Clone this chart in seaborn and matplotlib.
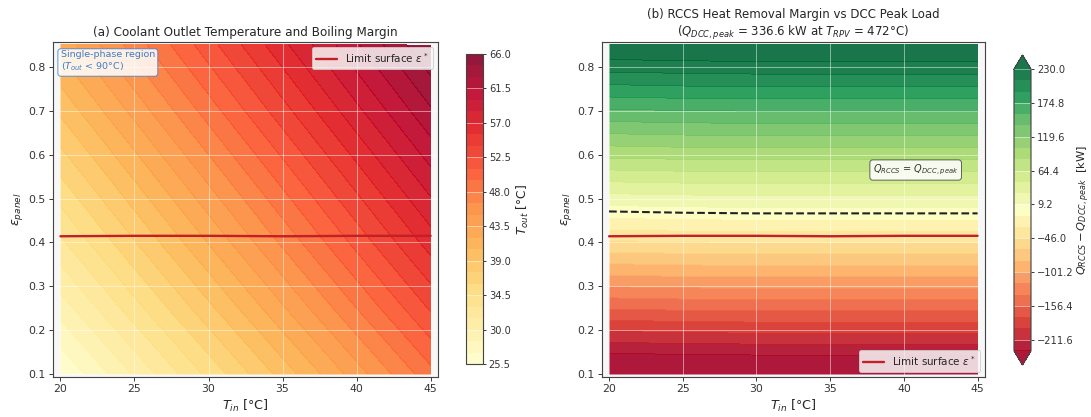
import numpy as np
import matplotlib
matplotlib.use("Agg")
import matplotlib.pyplot as plt
import seaborn as sns

# inlet temperature grid [°C]
t_in = [20, 25, 30, 35, 40, 45]

# panel (a): outlet temperature, rows = emissivity, cols = inlet temperature
eps_a = [0.10, 0.25, 0.40, 0.55, 0.70, 0.85]
t_out = [
    [25.5, 30.2, 34.9, 39.6, 44.3, 49.0],
    [29.2, 33.9, 38.6, 43.3, 48.0, 52.7],
    [32.7, 37.4, 42.1, 46.8, 51.5, 56.2],
    [36.0, 40.7, 45.4, 50.1, 54.8, 59.5],
    [39.3, 44.0, 48.7, 53.4, 58.1, 62.8],
    [42.5, 47.2, 51.9, 56.6, 61.3, 66.0],
]

# panel (b): heat removal margin vs emissivity [kW], small shift along T_in
eps_b = [0.10, 0.15, 0.20, 0.25, 0.30, 0.35, 0.40, 0.45,
         0.50, 0.55, 0.60, 0.65, 0.70, 0.75, 0.80, 0.85]
q_margin = [-262, -225, -188, -152, -116, -81, -46, -11,
            23, 57, 91, 124, 157, 190, 222, 254]
q_shift = [-3, -1, 0, 0, 0, 0]

# limit surface epsilon* along T_in
eps_star = [0.414, 0.415, 0.415, 0.414, 0.415, 0.415]

q_dcc_peak = 336.6
t_rpv = 472

sns.set_theme(style="whitegrid", rc={
    "axes.facecolor": "#f7f7f7",
    "axes.edgecolor": "#444444",
    "axes.linewidth": 1.2,
    "axes.axisbelow": "line",
    "grid.color": "white",
    "grid.alpha": 0.55,
    "grid.linewidth": 0.9,
    "xtick.major.size": 4,
    "ytick.major.size": 4,
    "xtick.major.width": 1,
    "ytick.major.width": 1,
    "xtick.bottom": True,
    "ytick.left": True,
    "xtick.color": "#333333",
    "ytick.color": "#333333",
    "font.size": 11,
})
plt.rcParams['font.family'] = ['DejaVu Sans']

fig = plt.figure(figsize=(1091 / 68, 417 / 68), dpi=68)
ax1 = fig.add_axes([0.0486, 0.0952, 0.3529, 0.8048])
cax1 = fig.add_axes([0.4271, 0.1271, 0.0153, 0.7434])
ax2 = fig.add_axes([0.5515, 0.0952, 0.3513, 0.8048])
cax2 = fig.add_axes([0.9294, 0.1247, 0.0156, 0.7434])

line_red = "#c21f2a"

# ---- (a) outlet temperature
X, Y = np.meshgrid(t_in, eps_a)
lev_a = np.linspace(25.5, 66.0, 28)
cf1 = ax1.contourf(X, Y, np.array(t_out), levels=lev_a, alpha=0.9,
                   cmap=sns.color_palette("YlOrRd", as_cmap=True))
ax1.plot(t_in, eps_star, color=line_red, lw=2.5, label=r"Limit surface $\varepsilon^*$")
cb1 = fig.colorbar(cf1, cax=cax1, ticks=np.linspace(25.5, 66.0, 10))
cb1.set_label(r"$T_{out}$ [°C]", fontsize=13)
cb1.ax.tick_params(labelsize=10.5, length=3)
cb1.outline.set_edgecolor("#444444")

ax1.text(0.02, 0.975, "Single-phase region\n($T_{out}$ < 90°C)",
         transform=ax1.transAxes, ha="left", va="top", fontsize=10, color="#3d7cc9",
         bbox=dict(boxstyle="round,pad=0.3", fc="white", ec="#3d7cc9", alpha=0.85))
ax1.legend(loc="upper right", fontsize=11, framealpha=0.85)
ax1.set_title("(a) Coolant Outlet Temperature and Boiling Margin", fontsize=12.7)

# ---- (b) heat removal margin
q_grid = np.array(q_margin)[:, None] + np.array(q_shift)[None, :]
X2, Y2 = np.meshgrid(t_in, eps_b)
lev_b = np.linspace(-230, 230, 26)
cf2 = ax2.contourf(X2, Y2, q_grid, levels=lev_b, extend="both", alpha=0.9,
                   cmap=sns.color_palette("RdYlGn", as_cmap=True))
ax2.contour(X2, Y2, q_grid, levels=[0], colors="#222222", linestyles="--", linewidths=2.2)
ax2.plot(t_in, eps_star, color=line_red, lw=2.5, label=r"Limit surface $\varepsilon^*$")
cb2 = fig.colorbar(cf2, cax=cax2, ticks=lev_b[::-3])
cb2.set_label(r"$Q_{RCCS} - Q_{DCC,peak}$  [kW]", fontsize=12, labelpad=2)
cb2.ax.tick_params(labelsize=10.5, length=3)
cb2.outline.set_edgecolor("#444444")

ax2.text(40.8, 0.565, r"$Q_{RCCS}$ = $Q_{DCC,peak}$", ha="center", va="center",
         fontsize=10.3, color="#333333",
         bbox=dict(boxstyle="round,pad=0.3", fc="white", ec="#444444", alpha=0.85))
ax2.legend(loc="lower right", fontsize=11, framealpha=0.85)
ax2.set_title("(b) RCCS Heat Removal Margin vs DCC Peak Load\n"
              f"($Q_{{DCC,peak}}$ = {q_dcc_peak} kW at $T_{{RPV}}$ = {t_rpv}°C)", fontsize=12.5)

for ax in (ax1, ax2):
    ax.set_xlim(19.5, 45.5)
    ax.set_ylim(0.0925, 0.8575)
    ax.set_xticks([20, 25, 30, 35, 40, 45])
    ax.set_yticks([0.1, 0.2, 0.3, 0.4, 0.5, 0.6, 0.7, 0.8])
    ax.tick_params(labelsize=11.5)
    ax.set_xlabel(r"$T_{in}$ [°C]", fontsize=13.5)
    ax.set_ylabel(r"$\varepsilon_{panel}$", fontsize=13.5)
    ax.grid(True)

fig.savefig("out.png", dpi=68)
